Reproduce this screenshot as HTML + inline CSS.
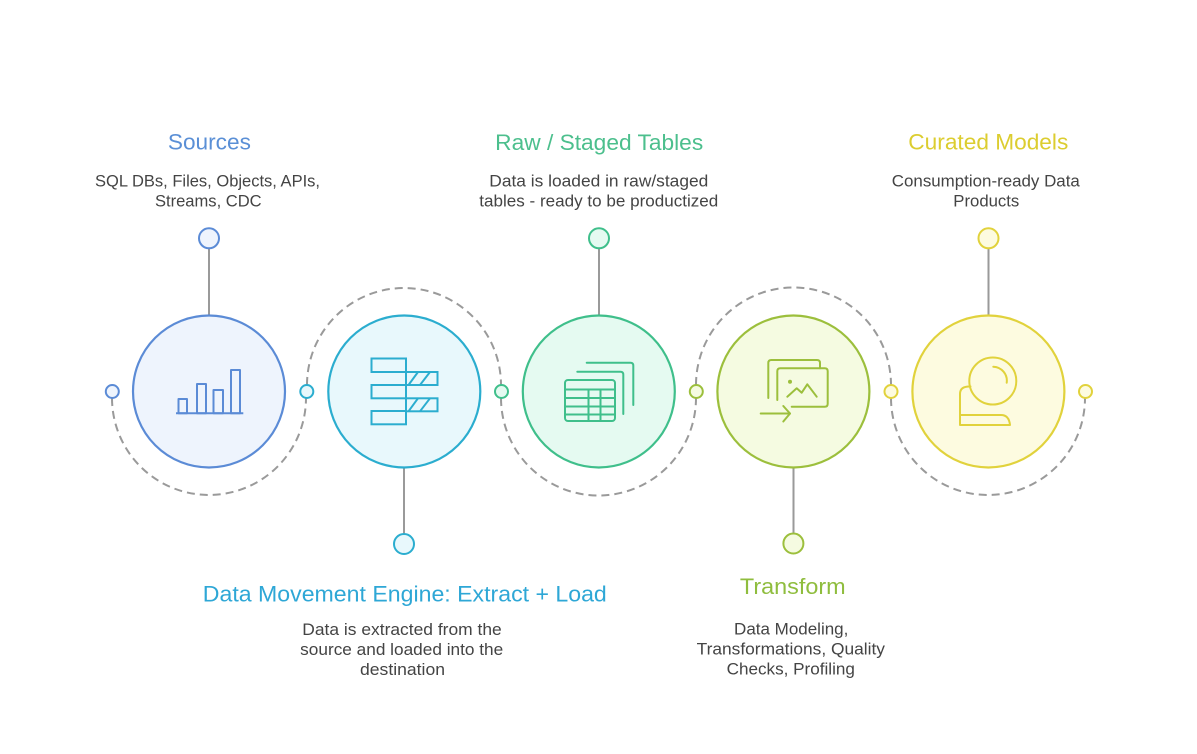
<!DOCTYPE html>
<html>
<head>
<meta charset="utf-8">
<style>
  html, body { margin:0; padding:0; background:#ffffff; }
  body { width:1197px; height:754px; overflow:hidden; }
  svg { display:block; }
  .t { font-family:"Liberation Sans", sans-serif; font-size:22px; text-anchor:middle; }
  .d { font-family:"Liberation Sans", sans-serif; font-size:17px; fill:#444444; text-anchor:middle; }
</style>
</head>
<body>
<svg width="1197" height="754" viewBox="0 0 1197 754" xmlns="http://www.w3.org/2000/svg">
  <rect width="1197" height="754" fill="#ffffff"/>

  <!-- dashed arcs -->
  <g fill="none" stroke="#9a9a9a" stroke-width="2" stroke-dasharray="8 5">
    <path d="M112 398 A97 97 0 0 0 306 398"/>
    <path d="M307 385 A97 97 0 0 1 501 385"/>
    <path d="M501 398 A97 97 0 0 0 696 398"/>
    <path d="M696 385 A97 97 0 0 1 891 385"/>
    <path d="M891 398 A97 97 0 0 0 1085 398"/>
  </g>

  <!-- connector lines -->
  <g stroke="#9a9a9a" stroke-width="2">
    <line x1="209" y1="248" x2="209" y2="315"/>
    <line x1="599" y1="248" x2="599" y2="315"/>
    <line x1="988.5" y1="248" x2="988.5" y2="315"/>
    <line x1="404" y1="468" x2="404" y2="534"/>
    <line x1="793.5" y1="468" x2="793.5" y2="534"/>
  </g>

  <!-- big circles -->
  <circle cx="209" cy="391.5" r="76" fill="#eef4fd" stroke="#5b8bd6" stroke-width="2.2"/>
  <circle cx="404.3" cy="391.5" r="76" fill="#e8f8fc" stroke="#2badcf" stroke-width="2.2"/>
  <circle cx="598.8" cy="391.5" r="76" fill="#e5faf1" stroke="#3fbf8b" stroke-width="2.2"/>
  <circle cx="793.4" cy="391.5" r="76" fill="#f5fbe1" stroke="#9cbf3c" stroke-width="2.2"/>
  <circle cx="988.4" cy="391.5" r="76" fill="#fdfbe0" stroke="#e1d23c" stroke-width="2.2"/>

  <!-- small axis circles -->
  <circle cx="112.3" cy="391.5" r="6.5" fill="#eef4fd" stroke="#5b8bd6" stroke-width="2"/>
  <circle cx="306.8" cy="391.5" r="6.5" fill="#e8f8fc" stroke="#2badcf" stroke-width="2"/>
  <circle cx="501.5" cy="391.5" r="6.5" fill="#e5faf1" stroke="#3fbf8b" stroke-width="2"/>
  <circle cx="696.3" cy="391.5" r="6.5" fill="#f5fbe1" stroke="#9cbf3c" stroke-width="2"/>
  <circle cx="891" cy="391.5" r="6.5" fill="#fdfbe0" stroke="#e1d23c" stroke-width="2"/>
  <circle cx="1085.5" cy="391.5" r="6.5" fill="#fdfbe0" stroke="#e1d23c" stroke-width="2"/>

  <!-- pin circles -->
  <circle cx="209" cy="238.3" r="10" fill="#eef4fd" stroke="#5b8bd6" stroke-width="2"/>
  <circle cx="599" cy="238.3" r="10" fill="#e5faf1" stroke="#3fbf8b" stroke-width="2"/>
  <circle cx="988.5" cy="238.3" r="10" fill="#fdfbe0" stroke="#e1d23c" stroke-width="2"/>
  <circle cx="404" cy="544" r="10" fill="#e8f8fc" stroke="#2badcf" stroke-width="2"/>
  <circle cx="793.4" cy="543.5" r="10" fill="#f5fbe1" stroke="#9cbf3c" stroke-width="2"/>

  <!-- icon 1: bar chart -->
  <g fill="none" stroke="#5b8bd6" stroke-width="2" stroke-linejoin="round">
    <line x1="176" y1="413.3" x2="243.3" y2="413.3"/>
    <rect x="178.5" y="399" width="8.5" height="14.3"/>
    <rect x="197" y="384" width="9" height="29.3"/>
    <rect x="213.5" y="390" width="9.5" height="23.3"/>
    <rect x="231" y="370" width="9" height="43.3"/>
  </g>

  <!-- icon 2: data movement -->
  <g fill="none" stroke="#2badcf" stroke-width="2">
    <rect x="371.5" y="358.5" width="34.5" height="13.5"/>
    <rect x="371.5" y="385" width="34.5" height="13.3"/>
    <rect x="371.5" y="411" width="34.5" height="13.3"/>
    <line x1="406" y1="358.5" x2="406" y2="424.3"/>
    <rect x="406" y="372" width="31.5" height="13"/>
    <rect x="406" y="398.3" width="31.5" height="13"/>
    <line x1="408.5" y1="385" x2="418" y2="372"/>
    <line x1="420" y1="385" x2="430" y2="372"/>
    <line x1="408.5" y1="411.3" x2="418" y2="398.3"/>
    <line x1="420" y1="411.3" x2="430" y2="398.3"/>
  </g>

  <!-- icon 3: tables -->
  <g fill="none" stroke="#3fbf8b" stroke-width="2" stroke-linecap="round" stroke-linejoin="round">
    <path d="M586.7 362.7 H630.5 Q633.3 362.7 633.3 365.5 V405"/>
    <path d="M577.3 371.7 H620.5 Q623.3 371.7 623.3 374.5 V414"/>
    <rect x="565" y="380" width="50" height="41" rx="3"/>
    <line x1="565" y1="389.5" x2="615" y2="389.5"/>
    <line x1="565" y1="398" x2="615" y2="398"/>
    <line x1="565" y1="406.5" x2="615" y2="406.5"/>
    <line x1="565" y1="414.5" x2="615" y2="414.5"/>
    <line x1="588.5" y1="389.5" x2="588.5" y2="421"/>
    <line x1="600.5" y1="389.5" x2="600.5" y2="421"/>
  </g>

  <!-- icon 4: transform -->
  <g fill="none" stroke="#9cbf3c" stroke-width="2" stroke-linecap="round" stroke-linejoin="round">
    <path d="M768.3 398 V363 Q768.3 360 771.3 360 H817 Q820 360 820 363 V368.3"/>
    <path d="M777.3 400 V371.3 Q777.3 368.3 780.3 368.3 H824.7 Q827.7 368.3 827.7 371.3 V403.7 Q827.7 406.7 824.7 406.7 H791.7"/>
    <circle cx="790" cy="381.7" r="1" fill="#9cbf3c"/>
    <path d="M787.3 396.7 L796.7 388.3 L801.7 392.7 L807.3 384.3 L816.7 396.7"/>
    <line x1="760.7" y1="413.5" x2="790" y2="413.5"/>
    <path d="M783.3 406 L790 413.5 L783.3 421.5"/>
  </g>

  <!-- icon 5: curated -->
  <g fill="none" stroke="#e1d23c" stroke-width="2" stroke-linecap="round" stroke-linejoin="round">
    <circle cx="992.8" cy="381" r="23.5"/>
    <path d="M993.3 366.7 A14 14 0 0 1 1006.7 382.7"/>
    <path d="M970.5 386.5 Q960 386 960 394 V425 H1010 Q1009 415 1001 415 H960"/>
  </g>

  <!-- top labels -->
  <text class="t" x="209.4" y="149.5" fill="#5a8fd6" textLength="83" lengthAdjust="spacingAndGlyphs">Sources</text>
  <text class="d" x="207.5" y="186.7" textLength="225" lengthAdjust="spacingAndGlyphs">SQL DBs, Files, Objects, APIs,</text>
  <text class="d" x="208.3" y="206.7" textLength="106.7" lengthAdjust="spacingAndGlyphs">Streams, CDC</text>

  <text class="t" x="599.2" y="149.8" fill="#4cbf8d" textLength="208" lengthAdjust="spacingAndGlyphs">Raw / Staged Tables</text>
  <text class="d" x="598.8" y="186.7" textLength="219" lengthAdjust="spacingAndGlyphs">Data is loaded in raw/staged</text>
  <text class="d" x="598.8" y="206.5" textLength="239" lengthAdjust="spacingAndGlyphs">tables - ready to be productized</text>

  <text class="t" x="988.3" y="149.5" fill="#dccd30" textLength="160" lengthAdjust="spacingAndGlyphs">Curated Models</text>
  <text class="d" x="985.8" y="186.7" textLength="188" lengthAdjust="spacingAndGlyphs">Consumption-ready Data</text>
  <text class="d" x="986.3" y="206.5" textLength="66" lengthAdjust="spacingAndGlyphs">Products</text>

  <!-- bottom labels -->
  <text class="t" x="404.8" y="601.7" fill="#2ea7d6" textLength="404" lengthAdjust="spacingAndGlyphs">Data Movement Engine: Extract + Load</text>
  <text class="d" x="402" y="635" textLength="199.4" lengthAdjust="spacingAndGlyphs">Data is extracted from the</text>
  <text class="d" x="401.7" y="655" textLength="203" lengthAdjust="spacingAndGlyphs">source and loaded into the</text>
  <text class="d" x="402.5" y="675" textLength="85" lengthAdjust="spacingAndGlyphs">destination</text>

  <text class="t" x="792.8" y="594" fill="#8fbd3e" textLength="105.7" lengthAdjust="spacingAndGlyphs">Transform</text>
  <text class="d" x="791.2" y="634.3" textLength="114.3" lengthAdjust="spacingAndGlyphs">Data Modeling,</text>
  <text class="d" x="790.8" y="654.3" textLength="188.3" lengthAdjust="spacingAndGlyphs">Transformations, Quality</text>
  <text class="d" x="790.8" y="674.5" textLength="128.3" lengthAdjust="spacingAndGlyphs">Checks, Profiling</text>
</svg>
</body>
</html>
